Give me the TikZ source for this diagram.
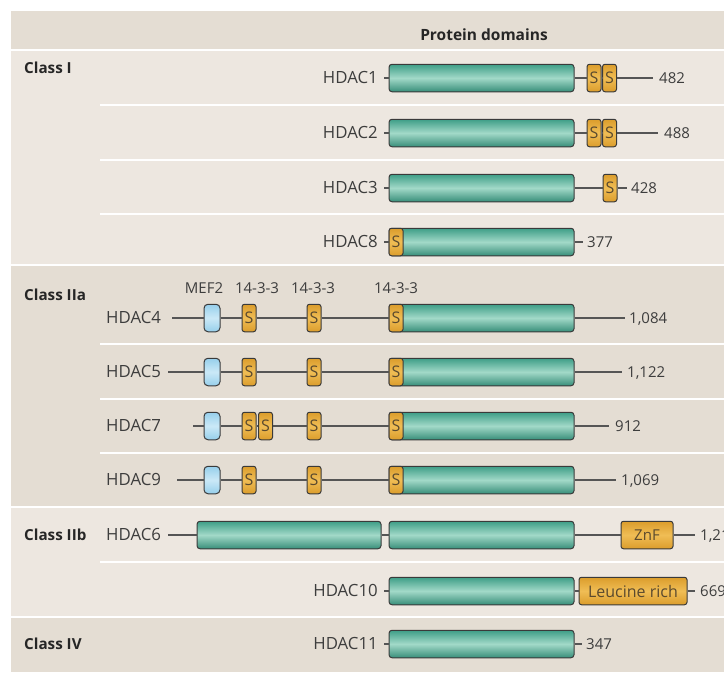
\documentclass[tikz,border=0pt]{standalone}
\usepackage{fontspec}
\setmainfont{Open Sans}
\definecolor{bgdark}{HTML}{E4DDD3}
\definecolor{bglight}{HTML}{EDE7E0}
\definecolor{tealedge}{HTML}{3E9E87}
\definecolor{teallight}{HTML}{A2D9C8}
\definecolor{orng}{HTML}{DB9D2C}
\definecolor{orngl}{HTML}{F0BD55}
\definecolor{mefblue}{HTML}{96CFEB}
\definecolor{mefl}{HTML}{CBE9F7}
\definecolor{outl}{HTML}{3A3A3A}
\definecolor{protline}{HTML}{555555}
\definecolor{txt}{HTML}{3D3D3D}
\definecolor{stxt}{HTML}{5B4A2E}
\begin{document}
\begin{tikzpicture}[x=1pt,y=-1pt]
\tikzset{
  sep/.style={draw=white, line width=2.5pt},
  cat/.style={draw=outl, line width=1pt, rounded corners=3pt, top color=tealedge, bottom color=tealedge!90!black, middle color=teallight, minimum height=27.5pt, inner sep=0pt},
  sbox/.style={draw=outl, line width=1pt, rounded corners=2.5pt, top color=orng, bottom color=orng, middle color=orngl, minimum height=27.5pt, minimum width=14pt, inner sep=0pt, font=\fontsize{16}{18}\selectfont, text=stxt},
  mef/.style={draw=outl, line width=1pt, rounded corners=4pt, top color=mefblue, bottom color=mefblue, middle color=mefl, minimum height=27.5pt, minimum width=16pt, inner sep=0pt},
  prot/.style={draw=protline, line width=1.4pt},
  lab/.style={font=\fontsize{16.8}{19}\selectfont, text=txt, inner sep=0pt, text height=11.8pt, text depth=0pt},
  dlab/.style={font=\fontsize{15}{17}\selectfont, text=txt, inner sep=0pt, text height=10.7pt, text depth=0pt},
  num/.style={font=\fontsize{15}{17}\selectfont, text=txt, inner sep=0pt, text height=10.7pt, text depth=0pt, anchor=west},
  cls/.style={font=\fontsize{15.2}{18}\selectfont\bfseries, text=black!85, inner sep=0pt, text height=10.9pt, text depth=0pt, anchor=west}
}
\useasboundingbox (0,0) rectangle (724,675);
% backgrounds
\fill[bgdark] (11,11) rectangle (724,50);
\fill[bglight] (11,50) rectangle (724,265);
\fill[bgdark] (11,265) rectangle (724,507);
\fill[bglight] (11,507) rectangle (724,617);
\fill[bgdark] (11,617) rectangle (724,672);
\draw[sep] (11,50) -- (724,50);
\draw[sep] (11,265) -- (724,265);
\draw[sep] (11,507) -- (724,507);
\draw[sep] (11,617) -- (724,617);
\foreach \yy in {105,160,214,344,399,453,562} \draw[sep] (100,\yy) -- (724,\yy);
% header and classes
\node[font=\fontsize{15.5}{18}\selectfont\bfseries, text=black!85, inner sep=0pt] (hdr) at (484,35) {Protein domains};
\node[cls] (k1) at (24,68) {Class I};
\node[cls] (k2) at (24,295) {Class IIa};
\node[cls] (k3) at (24,535) {Class IIb};
\node[cls] (k4) at (24,644) {Class IV};

% HDAC1
\node[lab, anchor=east] (l1) at (378,78) {HDAC1};
\coordinate (st1) at (384,78);
\node[cat, minimum width=185pt] (c1) at (481.5,78) {};
\node[sbox] (s1a) at (594,78) {S};
\node[sbox] (s1b) at (609.5,78) {S};
\coordinate (e1) at (653,78);
\node[num] (n1) at (659,78) {482};
\draw[prot] (st1) -- (c1.west) (c1.east) -- (s1a.west) (s1a.east) -- (s1b.west) (s1b.east) -- (e1);

% HDAC2
\node[lab, anchor=east] (l2) at (378,133) {HDAC2};
\coordinate (st2) at (384,133);
\node[cat, minimum width=185pt] (c2) at (481.5,133) {};
\node[sbox] (s2a) at (594,133) {S};
\node[sbox] (s2b) at (609.5,133) {S};
\coordinate (e2) at (658,133);
\node[num] (n2) at (664,133) {488};
\draw[prot] (st2) -- (c2.west) (c2.east) -- (s2a.west) (s2a.east) -- (s2b.west) (s2b.east) -- (e2);

% HDAC3
\node[lab, anchor=east] (l3) at (378,188) {HDAC3};
\coordinate (st3) at (384,188);
\node[cat, minimum width=185pt] (c3) at (481.5,188) {};
\node[sbox] (s3a) at (610,188) {S};
\coordinate (e3) at (627,188);
\node[num] (n3) at (631,188) {428};
\draw[prot] (st3) -- (c3.west) (c3.east) -- (s3a.west) (s3a.east) -- (e3);

% HDAC8
\node[lab, anchor=east] (l8) at (378,242) {HDAC8};
\coordinate (st8) at (384,242);
\node[cat, minimum width=185pt] (c8) at (481.5,242) {};
\node[sbox] (s8) at (396,242) {S};
\coordinate (e8) at (583,242);
\node[num] (n8) at (587,242) {377};
\draw[prot] (st8) -- (s8.west) (c8.east) -- (e8);

% domain labels
\node[dlab] (dm) at (204,288) {MEF2};
\node[dlab] (d1) at (257,288) {14-3-3};
\node[dlab] (d2) at (313,288) {14-3-3};
\node[dlab] (d3) at (396,288) {14-3-3};

% HDAC4
\node[lab, anchor=west] (l4) at (106,318) {HDAC4};
\coordinate (st4) at (172,318);
\node[mef] (m4) at (212,318) {};
\node[sbox] (s4a) at (249,318) {S};
\node[sbox] (s4b) at (314,318) {S};
\node[cat, minimum width=185pt] (c4) at (481.5,318) {};
\node[sbox] (s4c) at (396,318) {S};
\coordinate (e4) at (625,318);
\node[num] (n4) at (629,318) {1,084};
\draw[prot] (st4) -- (m4.west) (m4.east) -- (s4a.west) (s4a.east) -- (s4b.west) (s4b.east) -- (s4c.west) (c4.east) -- (e4);

% HDAC5
\node[lab, anchor=west] (l5) at (106,372) {HDAC5};
\coordinate (st5) at (168,372);
\node[mef] (m5) at (212,372) {};
\node[sbox] (s5a) at (249,372) {S};
\node[sbox] (s5b) at (314,372) {S};
\node[cat, minimum width=185pt] (c5) at (481.5,372) {};
\node[sbox] (s5c) at (396,372) {S};
\coordinate (e5) at (622,372);
\node[num] (n5) at (627,372) {1,122};
\draw[prot] (st5) -- (m5.west) (m5.east) -- (s5a.west) (s5a.east) -- (s5b.west) (s5b.east) -- (s5c.west) (c5.east) -- (e5);

% HDAC7
\node[lab, anchor=west] (l7) at (106,426) {HDAC7};
\coordinate (st7) at (193,426);
\node[mef] (m7) at (212,426) {};
\node[sbox] (s7a) at (249,426) {S};
\node[sbox] (s7b) at (265.5,426) {S};
\node[sbox] (s7c) at (314,426) {S};
\node[cat, minimum width=185pt] (c7) at (481.5,426) {};
\node[sbox] (s7d) at (396,426) {S};
\coordinate (e7) at (609,426);
\node[num] (n7) at (615,426) {912};
\draw[prot] (st7) -- (m7.west) (m7.east) -- (s7a.west) (s7a.east) -- (s7b.west) (s7b.east) -- (s7c.west) (s7c.east) -- (s7d.west) (c7.east) -- (e7);

% HDAC9
\node[lab, anchor=west] (l9) at (106,480) {HDAC9};
\coordinate (st9) at (177,480);
\node[mef] (m9) at (212,480) {};
\node[sbox] (s9a) at (249,480) {S};
\node[sbox] (s9b) at (314,480) {S};
\node[cat, minimum width=185pt] (c9) at (481.5,480) {};
\node[sbox] (s9c) at (396,480) {S};
\coordinate (e9) at (616,480);
\node[num] (n9) at (621,480) {1,069};
\draw[prot] (st9) -- (m9.west) (m9.east) -- (s9a.west) (s9a.east) -- (s9b.west) (s9b.east) -- (s9c.west) (c9.east) -- (e9);

% HDAC6
\node[lab, anchor=west] (l6) at (106,535) {HDAC6};
\coordinate (st6) at (168,535);
\node[cat, minimum width=184pt] (c6a) at (289,535) {};
\node[cat, minimum width=185pt] (c6b) at (481.5,535) {};
\node[sbox, minimum width=52pt, font=\fontsize{15}{17}\selectfont] (z6) at (647,535) {ZnF};
\coordinate (e6) at (695,535);
\node[num] (n6) at (700,535) {1,215};
\draw[prot] (st6) -- (c6a.west) (c6a.east) -- (c6b.west) (c6b.east) -- (z6.west) (z6.east) -- (e6);

% HDAC10
\node[lab, anchor=east] (l10) at (378,591) {HDAC10};
\coordinate (st10) at (384,591);
\node[cat, minimum width=185pt] (c10) at (481.5,591) {};
\node[sbox, minimum width=108pt, font=\fontsize{16}{18}\selectfont] (lr) at (633,591) {Leucine rich};
\coordinate (e10) at (695,591);
\node[num] (n10) at (700,591) {669};
\draw[prot] (st10) -- (c10.west) (c10.east) -- (lr.west) (lr.east) -- (e10);

% HDAC11
\node[lab, anchor=east] (l11) at (378,644) {HDAC11};
\coordinate (st11) at (384,644);
\node[cat, minimum width=185pt] (c11) at (481.5,644) {};
\coordinate (e11) at (582,644);
\node[num] (n11) at (586,644) {347};
\draw[prot] (st11) -- (c11.west) (c11.east) -- (e11);
\end{tikzpicture}
\end{document}
